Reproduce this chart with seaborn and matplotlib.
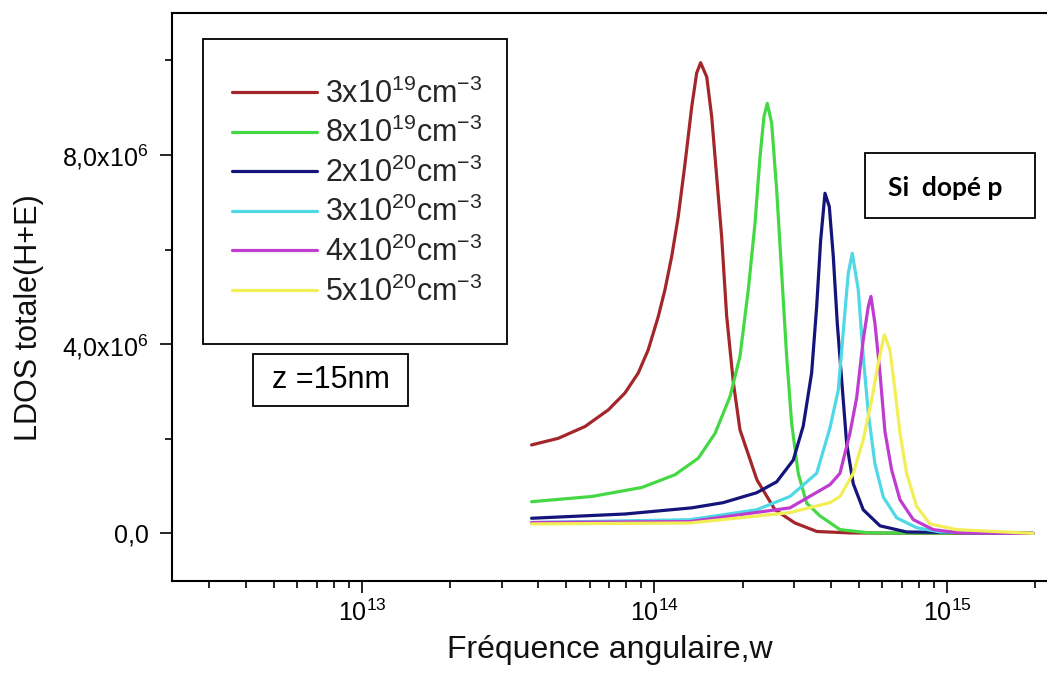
import numpy as np
import pandas as pd
import matplotlib
matplotlib.use("Agg")
import matplotlib.pyplot as plt
import seaborn as sns
from matplotlib.ticker import FixedLocator, NullFormatter, LogLocator, FixedFormatter
from matplotlib.patches import Rectangle

# ---------------- data ----------------
labels = [r"3x10$^{19}$cm$^{-3}$", r"8x10$^{19}$cm$^{-3}$", r"2x10$^{20}$cm$^{-3}$",
          r"3x10$^{20}$cm$^{-3}$", r"4x10$^{20}$cm$^{-3}$", r"5x10$^{20}$cm$^{-3}$"]
colors = ["#A3262A", "#45D845", "#14147A", "#4FD8E6", "#C03CD0", "#F2EE55"]

w_red = [3.80e13, 4.69e13, 5.79e13, 6.95e13, 7.93e13, 8.80e13, 9.52e13, 1.030e14, 1.086e14,
         1.145e14, 1.206e14, 1.272e14, 1.341e14, 1.394e14, 1.438e14, 1.509e14, 1.569e14,
         1.632e14, 1.697e14, 1.765e14, 1.860e14, 1.960e14, 2.241e14, 2.582e14, 3.022e14,
         3.594e14, 4.660e14, 1.024e15, 1.968e15]
ldos_red = [1.87e6, 2.01e6, 2.26e6, 2.61e6, 2.97e6, 3.39e6, 3.88e6, 4.58e6, 5.15e6,
            5.85e6, 6.70e6, 7.82e6, 9.02e6, 9.73e6, 9.95e6, 9.65e6, 8.81e6,
            7.54e6, 6.27e6, 4.60e6, 3.20e6, 2.19e6, 1.13e6, 0.50e6, 0.22e6,
            0.04e6, 0.01e6, 0.0, 0.0]

w_green = [3.80e13, 6.10e13, 9.04e13, 1.175e14, 1.412e14, 1.610e14, 1.812e14, 1.960e14,
           2.093e14, 2.207e14, 2.295e14, 2.368e14, 2.430e14, 2.516e14, 2.617e14, 2.722e14,
           2.831e14, 2.944e14, 3.101e14, 3.313e14, 3.680e14, 4.307e14, 5.456e14, 1.968e15]
ldos_green = [0.67e6, 0.78e6, 0.97e6, 1.24e6, 1.59e6, 2.11e6, 2.89e6, 3.74e6,
              5.15e6, 6.56e6, 7.96e6, 8.81e6, 9.09e6, 8.67e6, 7.26e6, 5.50e6,
              3.74e6, 2.33e6, 1.27e6, 0.64e6, 0.37e6, 0.08e6, 0.01e6, 0.0]

w_blue = [3.80e13, 7.93e13, 1.341e14, 1.718e14, 2.236e14, 2.617e14, 2.982e14, 3.226e14,
          3.446e14, 3.585e14, 3.700e14, 3.828e14, 3.960e14, 4.087e14, 4.217e14, 4.365e14,
          4.540e14, 4.783e14, 5.173e14, 5.902e14, 7.281e14, 1.968e15]
ldos_blue = [0.32e6, 0.41e6, 0.54e6, 0.65e6, 0.86e6, 1.09e6, 1.55e6, 2.27e6,
             3.39e6, 4.79e6, 6.20e6, 7.19e6, 6.91e6, 5.85e6, 4.44e6, 3.25e6,
             1.90e6, 1.05e6, 0.50e6, 0.16e6, 0.03e6, 0.0]

w_cyan = [3.80e13, 1.323e14, 2.236e14, 2.905e14, 3.585e14, 3.981e14, 4.250e14, 4.445e14,
          4.598e14, 4.745e14, 4.975e14, 5.173e14, 5.381e14, 5.672e14, 6.057e14, 6.730e14,
          7.879e14, 9.465e14, 1.968e15]
ldos_cyan = [0.23e6, 0.29e6, 0.50e6, 0.78e6, 1.27e6, 2.23e6, 3.03e6, 4.44e6,
             5.50e6, 5.92e6, 5.15e6, 3.74e6, 2.56e6, 1.47e6, 0.77e6, 0.33e6,
             0.12e6, 0.03e6, 0.0]

w_magenta = [3.80e13, 1.323e14, 2.905e14, 3.981e14, 4.307e14, 4.660e14, 4.913e14, 5.173e14,
             5.381e14, 5.497e14, 5.672e14, 5.902e14, 6.138e14, 6.470e14, 6.909e14, 7.672e14,
             8.979e14, 1.104e15, 1.968e15]
ldos_magenta = [0.23e6, 0.25e6, 0.54e6, 1.03e6, 1.27e6, 2.12e6, 2.87e6, 4.09e6,
                4.79e6, 5.01e6, 4.44e6, 3.39e6, 2.15e6, 1.34e6, 0.71e6, 0.29e6,
                0.08e6, 0.01e6, 0.0]

w_yellow = [3.80e13, 1.323e14, 2.905e14, 3.981e14, 4.307e14, 4.783e14, 5.173e14, 5.527e14,
            5.823e14, 6.104e14, 6.384e14, 6.640e14, 6.909e14, 7.281e14, 7.879e14, 8.748e14,
            1.080e15, 1.968e15]
ldos_yellow = [0.20e6, 0.22e6, 0.44e6, 0.65e6, 0.78e6, 1.27e6, 1.98e6, 2.82e6,
               3.60e6, 4.20e6, 3.88e6, 3.03e6, 2.12e6, 1.27e6, 0.57e6, 0.20e6,
               0.08e6, 0.0]

x_major = [1e13, 1e14, 1e15]
x_major_labels = [r"$\mathregular{10^{13}}$", r"$\mathregular{10^{14}}$", r"$\mathregular{10^{15}}$"]
y_major = [0.0, 4.0e6, 8.0e6]
y_major_labels = ["0,0", r"4,0x10$^{6}$", r"8,0x10$^{6}$"]
y_minor = [2.0e6, 6.0e6, 1.0e7]

# ---------------- styling ----------------
sns.set_theme(style="ticks")
plt.rcParams['font.family'] = ['Liberation Sans', 'DejaVu Sans']
plt.rcParams['mathtext.fontset'] = 'custom'
plt.rcParams['mathtext.rm'] = 'Liberation Sans'
plt.rcParams['mathtext.it'] = 'Liberation Sans:italic'
plt.rcParams['mathtext.bf'] = 'Liberation Sans:bold'

series = [(w_red, ldos_red), (w_green, ldos_green), (w_blue, ldos_blue),
          (w_cyan, ldos_cyan), (w_magenta, ldos_magenta), (w_yellow, ldos_yellow)]
frames = []
for lab, (w, v) in zip(labels, series):
    frames.append(pd.DataFrame({"w": w, "ldos": v, "serie": lab}))
df = pd.concat(frames, ignore_index=True)
palette = dict(zip(labels, colors))

fig = plt.figure(figsize=(10.47, 6.75), dpi=100)
ax = fig.add_axes([0.164, 0.1397, 0.836, 0.841])

sns.lineplot(data=df, x="w", y="ldos", hue="serie", hue_order=labels, palette=palette,
             sort=False, estimator=None, linewidth=2.3, ax=ax, legend=True)
for line in ax.get_lines():
    line.set_solid_joinstyle("round")

ax.set_xscale("log")
ax.set_xlim(2.236e12, 2.198e15)
ax.set_ylim(-1.0e6, 1.1e7)

ax.xaxis.set_major_locator(FixedLocator(x_major))
ax.xaxis.set_major_formatter(FixedFormatter(x_major_labels))
ax.xaxis.set_minor_locator(LogLocator(base=10, subs=np.arange(2, 10)))
ax.xaxis.set_minor_formatter(NullFormatter())
ax.yaxis.set_major_locator(FixedLocator(y_major))
ax.yaxis.set_major_formatter(FixedFormatter(y_major_labels))
ax.yaxis.set_minor_locator(FixedLocator(y_minor))
ax.yaxis.set_minor_formatter(NullFormatter())

ax.tick_params(axis="both", which="major", direction="out", length=8.6, width=1.2,
               color="black", labelsize=18, labelcolor="black")
ax.tick_params(axis="both", which="minor", direction="out", length=5, width=1.2, color="black")
ax.tick_params(axis="x", which="major", pad=5)
ax.tick_params(axis="y", which="major", pad=8)

for s in ["left", "bottom", "top"]:
    ax.spines[s].set_visible(True)
    ax.spines[s].set_color("black")
    ax.spines[s].set_linewidth(1.5)
ax.spines["right"].set_visible(False)

ax.set_xlabel("Fréquence angulaire,w", fontsize=23, color="#111111")
ax.xaxis.set_label_coords(0.5, -0.095)
ax.set_ylabel("LDOS totale(H+E)", fontsize=22, color="#111111")
ax.yaxis.set_label_coords(-0.146, 0.463)

handles, labs = ax.get_legend_handles_labels()
leg = ax.legend(handles, labs, loc="center left", bbox_to_anchor=(0.0689, 0.683),
                frameon=False, fontsize=22, handlelength=2.78, handletextpad=0.26,
                labelspacing=0.27, borderpad=0, borderaxespad=0)
for line in leg.get_lines():
    line.set_linewidth(2.3)

ax.add_patch(Rectangle((0.0354, 0.4164), 0.3473, 0.5378, transform=ax.transAxes,
                       fill=False, edgecolor="black", linewidth=1.3, clip_on=False, zorder=5))
ax.add_patch(Rectangle((0.0932, 0.3083), 0.1771, 0.0905, transform=ax.transAxes,
                       fill=False, edgecolor="black", linewidth=1.3, clip_on=False, zorder=5))
ax.text(0.1818, 0.3535, "z =15nm", transform=ax.transAxes, fontsize=22,
        ha="center", va="center", color="black")
ax.add_patch(Rectangle((0.7917, 0.6384), 0.1942, 0.1145, transform=ax.transAxes,
                       fill=True, facecolor="white", edgecolor="black", linewidth=1.3,
                       clip_on=False, zorder=5))
ax.text(0.8835, 0.6917, "Si  dopé p", transform=ax.transAxes, fontsize=19,
        fontweight="bold", family=["Lato", "DejaVu Sans"], ha="center", va="center",
        color="black", zorder=6)

fig.savefig("out.png", dpi=100, facecolor="white")
